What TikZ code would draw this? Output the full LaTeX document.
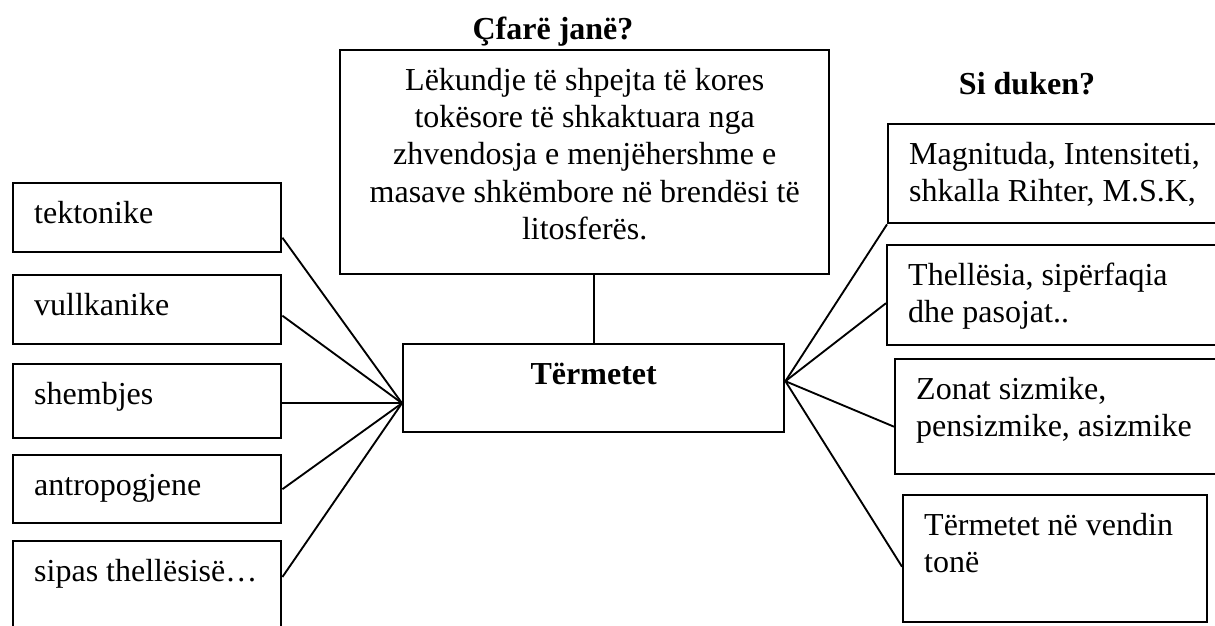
\documentclass[tikz,border=0pt]{standalone}
\usepackage{fontspec}
\setmainfont{Liberation Serif}
\usetikzlibrary{calc}

\newcommand{\celltext}[3]{\parbox[c][\dimexpr #2pt*3/8\relax][t]{\dimexpr #1pt*3/8-15.75pt\relax}{\raggedright\vspace{5.2pt}\strut #3}}

\tikzset{
  cell/.style={draw, line width=0.9pt, anchor=north west, inner xsep=7.875pt, inner ysep=0pt},
  link/.style={line width=0.7pt},
  title/.style={font=\fontsize{12}{14}\selectfont\bfseries, anchor=base}
}

\begin{document}
\begin{tikzpicture}[x=0.375pt, y=-0.375pt, font=\fontsize{12}{14}\selectfont]
\useasboundingbox (0,0) rectangle (1215,626);
\clip (0,0) rectangle (1215,626);

% questions
\node[title] (what) at (553,40) {Çfarë janë?};
\node[title] (look) at (1027,95) {Si duken?};

% middle
\node[cell] (def) at (339,49) {\celltext{489}{224}{\centering Lëkundje të shpejta të kores\\ tokësore të shkaktuara nga\\ zhvendosja e menjëhershme e\\ masave shkëmbore në brendësi të\\ litosferës.}};
\node[cell] (hub) at (402,343) {\celltext{381}{88}{\centering\bfseries Tërmetet}};

% left column
\node[cell] (tek) at (12,182) {\celltext{268}{69}{tektonike}};
\node[cell] (vul) at (12,274) {\celltext{268}{69}{vullkanike}};
\node[cell] (she) at (12,363) {\celltext{268}{74}{shembjes}};
\node[cell] (ant) at (12,454) {\celltext{268}{68}{antropogjene}};
\node[cell] (sip) at (12,540) {\celltext{268}{110}{sipas thellësisë…}};

% right column
\node[cell] (mag) at (887,123) {\celltext{338}{99}{Magnituda, Intensiteti,\\ shkalla Rihter, M.S.K,}};
\node[cell] (thel) at (886,244) {\celltext{339}{100}{Thellësia, sipërfaqia\\ dhe pasojat..}};
\node[cell] (zon) at (894,358) {\celltext{331}{115}{Zonat sizmike,\\ pensizmike, asizmike}};
\node[cell] (vend) at (902,494) {\celltext{304}{127}{Tërmetet në vendin\\ tonë}};

% links
\coordinate (hubl) at ($(hub.west)+(0,15)$);
\coordinate (hubr) at ($(hub.east)+(0,-7)$);
\draw[link] (hub.north) -- (hub.north |- def.south);

\draw[link] ($(tek.east)+(0,20)$) -- (hubl);
\draw[link] ($(vul.east)+(0,6)$) -- (hubl);
\draw[link] ($(she.east)+(0,2)$) -- (hubl);
\draw[link] (ant.east) -- (hubl);
\draw[link] ($(sip.north east)+(0,37)$) -- (hubl);

\draw[link] (mag.south west) -- (hubr);
\draw[link] ($(thel.west)+(0,8)$) -- (hubr);
\draw[link] ($(zon.west)+(0,10)$) -- (hubr);
\draw[link] ($(vend.west)+(0,8)$) -- (hubr);

\end{tikzpicture}
\end{document}
